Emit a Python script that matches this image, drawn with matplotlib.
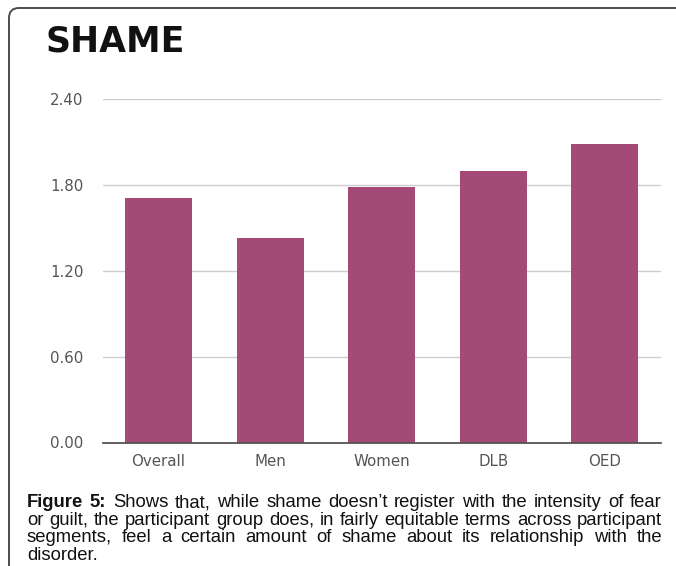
import matplotlib
matplotlib.use("Agg")
import matplotlib.pyplot as plt
from matplotlib.patches import FancyBboxPatch
from matplotlib.transforms import Affine2D

# Mean shame score per participant segment
categories = ["Overall", "Men", "Women", "DLB", "OED"]
shame_scores = [1.71, 1.43, 1.79, 1.90, 2.09]
y_ticks = [0.0, 0.6, 1.2, 1.8, 2.4]

caption_lines = [
    ["Figure 5:", "Shows that, while shame doesn’t register with the intensity of fear"],
    ["", "or guilt, the participant group does, in fairly equitable terms across participant"],
    ["", "segments, feel a certain amount of shame about its relationship with the"],
    ["", "disorder."],
]

W, H = 676, 566
BAR_COLOR = "#a34a76"

fig = plt.figure(figsize=(W / 100, H / 100), dpi=100)
fig.patch.set_facecolor("white")

# pixel coordinates measured from the top-left corner
px = Affine2D().scale(1, -1).translate(0, H)

# frame line along the top and left edges
frame = FancyBboxPatch((9, 8), 720, 620, boxstyle="round,pad=0,rounding_size=10",
                       transform=px, facecolor="none", edgecolor="#4d4d4d",
                       linewidth=1.4)
fig.patches.append(frame)

fig.text(45, 52, "SHAME", transform=px, fontsize=25, fontweight="bold",
         family="DejaVu Sans", color="#111111", va="baseline", ha="left")

# axes placed so that x spans -0.5..4.5 and y spans 0..2.4
ax_left, ax_right = 102.7, 660.7
ax_top, ax_bottom = 99.3, 442.5
ax = fig.add_axes([ax_left / W, 1 - ax_bottom / H,
                   (ax_right - ax_left) / W, (ax_bottom - ax_top) / H])

x = list(range(len(categories)))
ax.bar(x, shame_scores, width=0.6, color=BAR_COLOR, zorder=3)
ax.set_xlim(-0.5, 4.5)
ax.set_ylim(0, 2.4)
ax.set_yticks(y_ticks)
ax.set_yticklabels([f"{v:.2f}" for v in y_ticks])
ax.set_xticks(x)
ax.set_xticklabels(categories)

for s in ax.spines.values():
    s.set_visible(False)
ax.grid(axis="y", color="#cccccc", linewidth=1.0, zorder=0)
ax.axhline(0, color="#555555", linewidth=1.3, zorder=4, clip_on=False)
ax.tick_params(axis="both", length=0, labelsize=10.8, labelcolor="#555555")
ax.tick_params(axis="y", pad=14)
ax.tick_params(axis="x", pad=8)

# justified caption text below the chart
fig.canvas.draw()
renderer = fig.canvas.get_renderer()
left, right = 27, 662
base_y = 507
line_gap = 17.7
fsize = 13.3
for i, (bold_part, rest) in enumerate(caption_lines):
    y = base_y + i * line_gap
    words = []
    if bold_part:
        words += [(w, "bold") for w in bold_part.split()]
    words += [(w, "normal") for w in rest.split()]
    texts = []
    for w, weight in words:
        t = fig.text(0, y, w, transform=px, fontsize=fsize, fontweight=weight,
                     family="Liberation Sans", color="#111111", va="baseline", ha="left")
        texts.append(t)
    widths = [t.get_window_extent(renderer).width for t in texts]
    last = i == len(caption_lines) - 1
    if last or len(texts) == 1:
        gap = fsize * 100 / 72 * 0.28
    else:
        gap = (right - left - sum(widths)) / (len(texts) - 1)
    pos = left
    for t, w in zip(texts, widths):
        t.set_x(pos)
        pos += w + gap

fig.savefig("out.png", dpi=100, facecolor="white")
